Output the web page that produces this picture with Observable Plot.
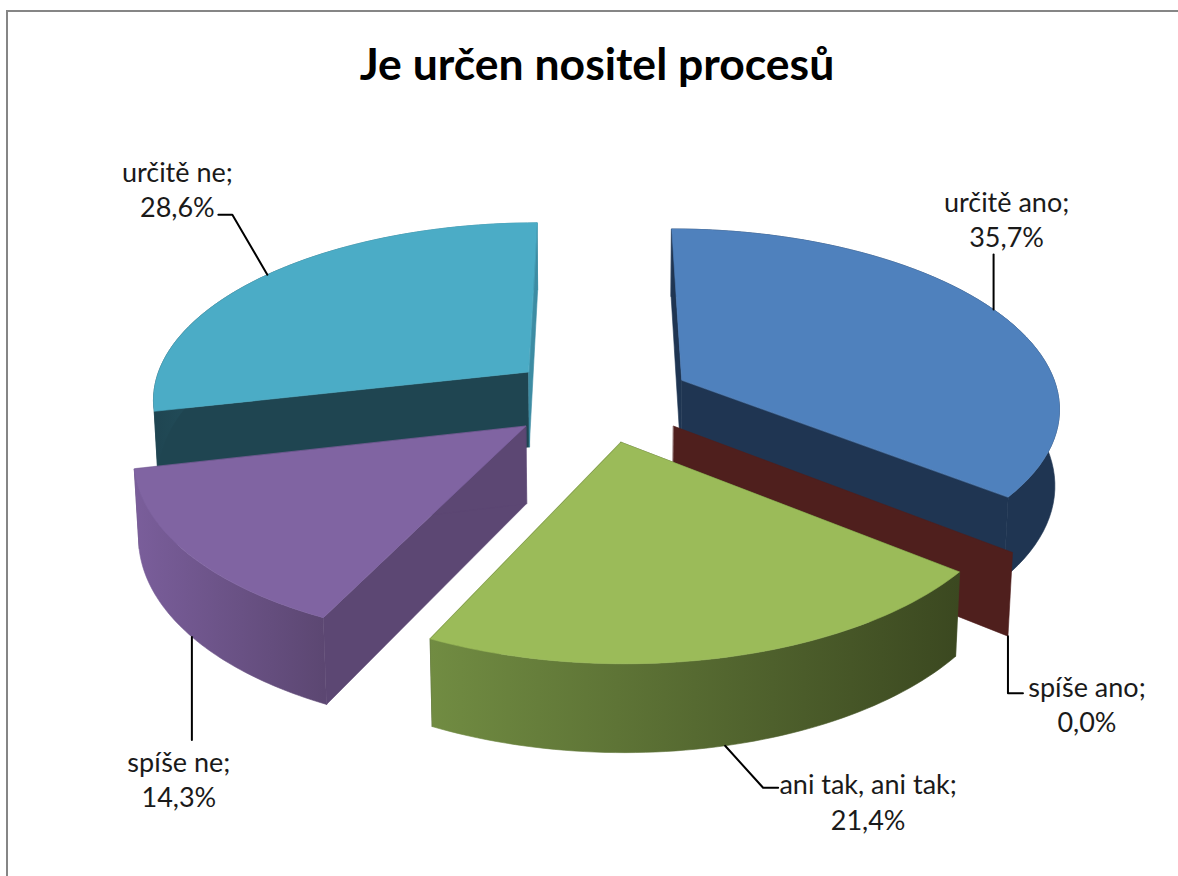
<!DOCTYPE html>
<html lang="cs"><head><meta charset="utf-8">
<script src="https://cdn.jsdelivr.net/npm/d3@7"></script>
<script src="https://cdn.jsdelivr.net/npm/@observablehq/plot@0.6"></script>
<style>
html,body{margin:0;padding:0;background:#fff;overflow:hidden;width:1178px;height:876px}
#frame{position:absolute;left:6px;top:10px;width:1300px;height:1000px;border-left:2.5px solid #868686;border-top:2.5px solid #868686}
#title{position:relative;height:100px;width:1194px;text-align:center;font:700 44.5px Lato,"Open Sans",sans-serif;line-height:126px;color:#000;white-space:nowrap}
#chart{position:relative;display:block}
</style></head><body>
<div id="frame"></div>
<div id="title">Je určen nositel procesů</div>
<div id="chart"></div>
<script>
const categories = ["určitě ano","spíše ano","ani tak, ani tak","spíše ne","určitě ne"];
const shares = [35.7, 0.0, 21.4, 14.3, 28.6];
const topColors = ["#4F81BD","#4F1F1D","#9BBB59","#8064A2","#4BACC6"];
const cutColors = [["#1F3552","#1F3552"],["#4F1F1D","#4F1F1D"],["#3D4A20","#3D4A20"],["#5C4773","#5C4773"],["#1F4551","#3D8CA3"]];
const wallStops = [["#1F3552","#1F3552"],["#4F1F1D","#4F1F1D"],["#718C42","#3B4820"],["#7A5E9B","#5C4772"],["#1F4551","#3D8CA3"]];
const drawOrder = [4,0,1,3,2];
// leader: where it leaves the slice, elbow and label offsets from that anchor
const leaderAnchor = [[.5,0],[1,1],[.5,1],[.5,1],[.5,0]];
const elbow = [[0,-55],[0,57],[38,42],[0,103],[-35,-60]];
const lineEnd = [[0,-55],[15,57],[53,42],[0,103],[-49,-60]];
const labelPos = [[13,-91],[79,67],[143,55],[-13,141],[-90,-86]];

const turn = 2*Math.PI, total = d3.sum(shares);
const P = {x0:599,y0:398,a:378,b:177,k:.14,m:.01,H:77,E:.245};
let acc = 0;
const slices = shares.map((s,i)=>{const t0=acc/total*turn; acc+=s; const t1=acc/total*turn; return {i,t0,t1,mid:(t0+t1)/2};});
const proj = (sl,t,r,z)=>{
  const X=P.E*Math.sin(sl.mid)+r*Math.sin(t), Y=P.E*Math.cos(sl.mid)+r*Math.cos(t), w=1+P.k*Y+P.m*z;
  return {x:P.x0+P.a*X/w, y:P.y0+(-P.b*Y+P.H*z)/w};
};
const arc = (sl,z)=>d3.range(0,61).map(j=>proj(sl,sl.t0+(sl.t1-sl.t0)*j/60,1,z));
const quad = (sl,t)=>[proj(sl,t,0,0),proj(sl,t,1,0),proj(sl,t,1,1),proj(sl,t,0,1)];
const face = (pts,fill)=>Plot.line(pts,{x:"x",y:"y",fill,stroke:fill,strokeWidth:.6,curve:"linear-closed"});

const defs = ()=>{
  const svg = d3.create("svg:defs");
  slices.forEach(sl=>{
    const xs=arc(sl,0).map(p=>p.x);
    const g=svg.append("linearGradient").attr("id","wall"+sl.i).attr("gradientUnits","userSpaceOnUse")
      .attr("x1",d3.min(xs)).attr("x2",d3.max(xs)+.01).attr("y1",0).attr("y2",0);
    g.append("stop").attr("offset",0).attr("stop-color",wallStops[sl.i][0]);
    g.append("stop").attr("offset",1).attr("stop-color",wallStops[sl.i][1]);
  });
  return svg.node();
};
const faces=[];
drawOrder.forEach(i=>{
  const sl=slices[i];
  if(shares[i]===0){ faces.push(face(quad(sl,sl.t0),topColors[i])); return; }
  faces.push(face(quad(sl,sl.t0),cutColors[i][0]));
  faces.push(face(quad(sl,sl.t1),cutColors[i][1]));
  faces.push(face([...arc(sl,0),...arc(sl,1).reverse()],`url(#wall${i})`));
  faces.push(face([proj(sl,sl.mid,0,0),...arc(sl,0)],topColors[i]));
});
const anchors = slices.map((sl,i)=>proj(sl,sl.t0+(sl.t1-sl.t0)*leaderAnchor[i][0],1,leaderAnchor[i][1]));
const leaders = anchors.map((p,i)=>[p,{x:p.x+elbow[i][0],y:p.y+elbow[i][1]},{x:p.x+lineEnd[i][0],y:p.y+lineEnd[i][1]}]);
const fmt = v=>v.toFixed(1).replace(".",",")+"%";
const labels = anchors.map((p,i)=>({x:p.x+labelPos[i][0],y:p.y+labelPos[i][1],t:`${categories[i]};\n${fmt(shares[i])}`}));

const plot = Plot.plot({
  width:1178,height:776,margin:0,
  x:{domain:[0,1178],range:[0,1178],axis:null},
  y:{domain:[100,876],range:[0,776],axis:null},
  marks:[defs,...faces,
    ...leaders.map(l=>Plot.line(l,{x:"x",y:"y",stroke:"#000",strokeWidth:2,curve:"linear"})),
    Plot.text(labels,{x:"x",y:"y",text:"t",fontSize:27,lineHeight:1.3,fontFamily:"Lato, 'Open Sans', sans-serif",fill:"#1a1a1a",textAnchor:"middle"})
  ]
});
plot.style.background="transparent";
document.getElementById("chart").append(plot);
</script></body></html>
